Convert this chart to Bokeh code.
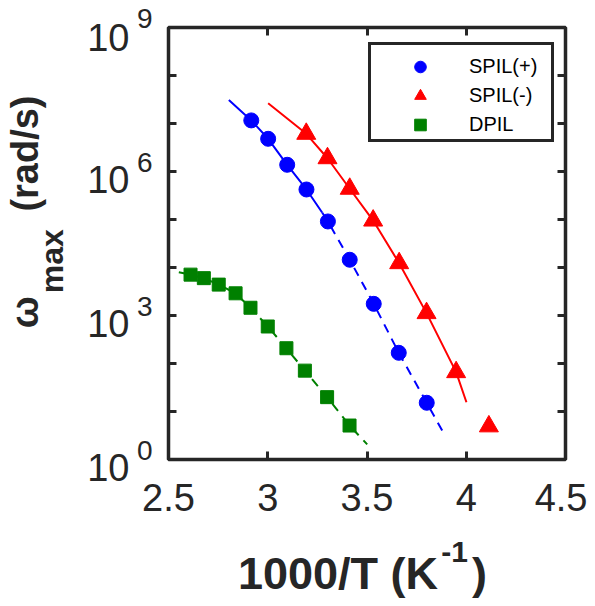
from bokeh.plotting import figure
from bokeh.models import (Range1d, FixedTicker, LinearAxis, LogAxis, Legend,
                          LegendItem, CustomJSTickFormatter)
from bokeh.embed import file_html
from bokeh.resources import INLINE

# ---------------- data ----------------
# SPIL(+) : 1000/T (1/K) and peak frequency (rad/s)
spil_p_x = [2.917, 3.002, 3.098, 3.195, 3.303, 3.413, 3.534, 3.660, 3.801]
spil_p_y = [1.16e7, 4.8e6, 1.38e6, 4.22e5, 9.1e4, 1.45e4, 1.75e3, 167, 15.2]
# SPIL(+) fit: solid part and dashed extrapolation
spil_p_fit_x = [2.804, 2.917, 3.002, 3.098, 3.195, 3.274]
spil_p_fit_y = [3.1e7, 1.16e7, 4.8e6, 1.38e6, 4.22e5, 1.4e5]
spil_p_ext_x = [3.274, 3.303, 3.413, 3.534, 3.660, 3.801, 3.890]
spil_p_ext_y = [1.4e5, 9.1e4, 1.45e4, 1.75e3, 167, 15.2, 3.3]

# SPIL(-)
spil_m_x = [3.194, 3.301, 3.413, 3.531, 3.662, 3.800, 3.949, 4.114]
spil_m_y = [6.1e6, 1.89e6, 4.37e5, 9.5e4, 1.23e4, 1.12e3, 66, 4.9]
spil_m_fit_x = [3.002, 3.194, 3.301, 3.413, 3.531, 3.662, 3.800, 3.949, 4.001]
spil_m_fit_y = [2.65e7, 6.1e6, 1.89e6, 4.37e5, 9.5e4, 1.23e4, 1.12e3, 66, 15.6]

# DPIL
dpil_x = [2.611, 2.678, 2.753, 2.838, 2.913, 3.000, 3.094, 3.187, 3.299, 3.412]
dpil_y = [7.1e3, 6.0e3, 4.4e3, 2.9e3, 1.45e3, 590, 208, 71, 19.9, 5.1]
dpil_fit_x = [2.552, 2.611, 2.678, 2.753, 2.838, 2.913, 3.000, 3.094, 3.187, 3.299, 3.412, 3.501]
dpil_fit_y = [8.0e3, 7.1e3, 6.0e3, 4.4e3, 2.9e3, 1.45e3, 590, 208, 71, 19.9, 5.1, 2.06]

# axes
x_ticks = [2.5, 3.0, 3.5, 4.0, 4.5]
x_tick_labels = ["2.5", "3", "3.5", "4", "4.5"]
y_label_decades = [0, 3, 6, 9]
y_tick_decades = list(range(0, 10))

FONT = "Liberation Sans"
DARK = "#262626"
BLUE = "#0000FF"
RED = "#FF0000"
GREEN = "#008000"
NB = "\u00a0"
THIN = "\u2009"

p = figure(x_range=Range1d(2.5, 4.5), y_range=Range1d(1, 1e9), y_axis_type="log",
           frame_width=397, frame_height=432,
           min_border_left=168, min_border_right=22, min_border_top=27, min_border_bottom=130,
           output_backend="svg", toolbar_location=None,
           background_fill_color="white", border_fill_color="white")
p.xgrid.visible = False
p.ygrid.visible = False
p.outline_line_color = DARK
p.outline_line_width = 3.5

def blank():
    return CustomJSTickFormatter(code="return ''")

def ticks_only(ax):
    ax.formatter = blank()
    ax.axis_line_color = None
    ax.major_tick_in = 8
    ax.major_tick_out = 0
    ax.major_tick_line_color = DARK
    ax.major_tick_line_width = 3
    ax.minor_tick_line_color = None
    ax.major_label_standoff = 0
    ax.major_label_text_font_size = "1px"

def no_ticks(ax):
    ax.axis_line_color = None
    ax.major_tick_line_color = None
    ax.minor_tick_line_color = None
    ax.major_tick_in = 0
    ax.major_tick_out = 0

y_tick_values = [10.0 ** k for k in y_tick_decades]
y_label_values = [10.0 ** k for k in y_label_decades]

# ---- y axes (left, from the frame outwards) ----
yax = p.yaxis[0]
yax.ticker = FixedTicker(ticks=y_tick_values)
ticks_only(yax)

# exponents (raised: first line of a two-line label)
exp_ax = LogAxis(ticker=FixedTicker(ticks=y_label_values),
                 formatter=CustomJSTickFormatter(code="return Math.round(Math.log10(tick)) + '\\n\\u00a0'"))
no_ticks(exp_ax)
exp_ax.major_label_standoff = 16
exp_ax.major_label_text_font = FONT
exp_ax.major_label_text_font_size = "28px"
exp_ax.major_label_text_color = DARK
exp_ax.major_label_text_line_height = 0.59
p.add_layout(exp_ax, "left")

# base "10" (lowered: second line of a two-line label)
ten_ax = LogAxis(ticker=FixedTicker(ticks=y_label_values),
                 formatter=CustomJSTickFormatter(code="return '\\u00a0\\n10'"))
no_ticks(ten_ax)
ten_ax.major_label_standoff = 4
ten_ax.major_label_text_font = FONT
ten_ax.major_label_text_font_size = "38px"
ten_ax.major_label_text_color = DARK
ten_ax.major_label_text_line_height = 0.39
ten_ax.axis_label = "max" + NB * 4
ten_ax.axis_label_standoff = 14
ten_ax.axis_label_text_font = FONT
ten_ax.axis_label_text_font_style = "bold"
ten_ax.axis_label_text_font_size = "32px"
ten_ax.axis_label_text_color = DARK
p.add_layout(ten_ax, "left")

ttl_ax = LogAxis(ticker=FixedTicker(ticks=[]), formatter=blank())
no_ticks(ttl_ax)
ttl_ax.major_label_standoff = 0
ttl_ax.axis_label = NB * 6 + "\u03c9" + NB * 8 + "(rad/s)"
ttl_ax.axis_label_standoff = -14
ttl_ax.axis_label_text_font = FONT
ttl_ax.axis_label_text_font_style = "bold"
ttl_ax.axis_label_text_font_size = "38px"
ttl_ax.axis_label_text_color = DARK
p.add_layout(ttl_ax, "left")

# ---- x axes (below, from the frame outwards) ----
xax = p.xaxis[0]
xax.ticker = FixedTicker(ticks=x_ticks)
xax.formatter = CustomJSTickFormatter(args=dict(xv=x_ticks, xl=x_tick_labels),
                                      code="const i = xv.indexOf(tick); return i >= 0 ? xl[i] : ''")
xax.axis_line_color = None
xax.major_tick_in = 8
xax.major_tick_out = 0
xax.major_tick_line_color = DARK
xax.major_tick_line_width = 3
xax.minor_tick_line_color = None
xax.major_label_standoff = 24
xax.major_label_text_font = FONT
xax.major_label_text_font_size = "38px"
xax.major_label_text_color = DARK
xax.axis_label = NB * 21 + "-1"
xax.axis_label_standoff = 21
xax.axis_label_text_font = FONT
xax.axis_label_text_font_style = "bold"
xax.axis_label_text_font_size = "30px"
xax.axis_label_text_color = DARK

xttl_ax = LinearAxis(ticker=FixedTicker(ticks=[]), formatter=blank())
no_ticks(xttl_ax)
xttl_ax.major_label_standoff = 0
xttl_ax.axis_label = "1000/T (K" + NB * 2 + THIN + ")" + THIN
xttl_ax.axis_label_standoff = -23
xttl_ax.axis_label_text_font = FONT
xttl_ax.axis_label_text_font_style = "bold"
xttl_ax.axis_label_text_font_size = "45px"
xttl_ax.axis_label_text_color = DARK
p.add_layout(xttl_ax, "below")

# ---- mirrored ticks ----
top_ax = LinearAxis(ticker=FixedTicker(ticks=x_ticks))
right_ax = LogAxis(ticker=FixedTicker(ticks=y_tick_values))
ticks_only(top_ax)
ticks_only(right_ax)
p.add_layout(top_ax, "above")
p.add_layout(right_ax, "right")

# ---- fit lines ----
p.line(spil_p_fit_x, spil_p_fit_y, line_color=BLUE, line_width=2)
p.line(spil_p_ext_x, spil_p_ext_y, line_color=BLUE, line_width=2, line_dash="9 7")
p.line(spil_m_fit_x, spil_m_fit_y, line_color=RED, line_width=2)
p.line(dpil_fit_x, dpil_fit_y, line_color=GREEN, line_width=2, line_dash="9 7")

# ---- markers ----
r1 = p.scatter(spil_p_x, spil_p_y, marker="circle", size=15, fill_color=BLUE, line_color=BLUE)
r2 = p.scatter(spil_m_x, spil_m_y, marker="triangle", size=19, fill_color=RED, line_color=RED)
r3 = p.scatter(dpil_x, dpil_y, marker="square", size=13, fill_color=GREEN, line_color=GREEN)

legend = Legend(items=[LegendItem(label="SPIL(+)", renderers=[r1]),
                       LegendItem(label="SPIL(-)", renderers=[r2]),
                       LegendItem(label="DPIL", renderers=[r3])],
                location=(200, 317), glyph_width=98, glyph_height=29, spacing=0,
                padding=0, margin=0, label_standoff=0, label_width=82,
                title=NB, title_text_font_size="1px", title_standoff=6,
                label_text_font=FONT, label_text_font_size="20px", label_text_color="black",
                border_line_color=DARK, border_line_width=3, border_line_alpha=1.0,
                background_fill_color="white", background_fill_alpha=1.0)
p.add_layout(legend, "center")

open("out.html", "w").write(file_html(p, INLINE))
